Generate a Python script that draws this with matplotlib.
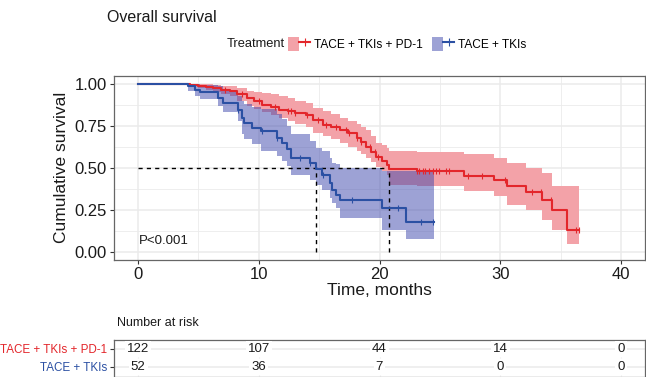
import numpy as np
import matplotlib
matplotlib.use("Agg")
import matplotlib.pyplot as plt
from matplotlib.patches import Patch
from matplotlib.lines import Line2D
from matplotlib.legend_handler import HandlerTuple

plt.rcParams['font.family'] = ['Liberation Sans', 'DejaVu Sans']

# ---------------- data ----------------
groups = ["TACE + TKIs + PD-1", "TACE + TKIs"]

red_t = [0, 4.3, 5.0, 5.6, 6.2, 6.9, 7.6, 8.2, 9.0, 9.6, 10.3, 11.0, 11.7, 12.4, 13.0,
         13.9, 14.5, 15.3, 16.0, 16.7, 17.4, 18.1, 18.5, 18.9, 19.3, 19.7, 20.2, 20.6,
         20.8, 23.1, 27.0, 29.5, 30.6, 32.1, 33.5, 34.3, 35.5]
red_s = [1.0, 0.994, 0.988, 0.982, 0.976, 0.967, 0.957, 0.94, 0.917, 0.90, 0.877, 0.862,
         0.847, 0.836, 0.828, 0.816, 0.786, 0.756, 0.742, 0.727, 0.705, 0.679, 0.655,
         0.626, 0.596, 0.566, 0.54, 0.519, 0.495, 0.479, 0.453, 0.425, 0.394, 0.354,
         0.31, 0.25, 0.127]
red_lo = [1.0, 0.985, 0.975, 0.962, 0.95, 0.94, 0.93, 0.90, 0.87, 0.85, 0.83, 0.815,
          0.80, 0.78, 0.76, 0.746, 0.709, 0.69, 0.67, 0.65, 0.625, 0.60, 0.58, 0.56,
          0.535, 0.507, 0.48, 0.46, 0.40, 0.39, 0.36, 0.33, 0.28, 0.25, 0.19, 0.13, 0.043]
red_hi = [1.0, 1.0, 1.0, 0.998, 0.995, 0.99, 0.985, 0.975, 0.96, 0.953, 0.946, 0.938,
          0.93, 0.915, 0.90, 0.886, 0.857, 0.84, 0.82, 0.80, 0.78, 0.76, 0.745, 0.727,
          0.69, 0.65, 0.635, 0.62, 0.60, 0.595, 0.58, 0.56, 0.53, 0.50, 0.47, 0.39, 0.39]
red_end = 36.5
red_cens = [7.2, 8.6, 10.0, 11.3, 12.4, 12.7, 13.0, 14.0, 14.9, 15.6, 16.4, 17.2, 17.5,
            18.1, 18.5, 19.2, 19.6, 19.9, 23.1, 23.3, 23.6, 23.8, 24.1, 24.4, 24.7, 24.9,
            25.5, 25.8, 27.3, 28.5, 30.4, 32.6, 33.4, 34.2, 36.3, 36.5]

blue_t = [0, 4.15, 4.7, 5.1, 6.6, 7.0, 8.25, 8.6, 8.8, 9.4, 10.2, 11.5, 11.9, 12.3, 12.7,
          14.2, 14.7, 15.2, 15.9, 16.1, 16.4, 16.7, 20.2, 22.2]
blue_s = [1.0, 0.986, 0.966, 0.952, 0.917, 0.887, 0.847, 0.798, 0.768, 0.738, 0.72, 0.68,
          0.65, 0.61, 0.56, 0.53, 0.49, 0.46, 0.41, 0.37, 0.34, 0.31, 0.263, 0.174]
blue_lo = [1.0, 0.96, 0.93, 0.91, 0.87, 0.83, 0.78, 0.70, 0.67, 0.64, 0.60, 0.57, 0.54,
           0.51, 0.46, 0.43, 0.40, 0.37, 0.32, 0.29, 0.26, 0.20, 0.13, 0.073]
blue_hi = [1.0, 1.0, 1.0, 0.995, 0.985, 0.96, 0.93, 0.90, 0.88, 0.86, 0.85, 0.82, 0.79,
           0.75, 0.70, 0.66, 0.62, 0.60, 0.56, 0.53, 0.52, 0.50, 0.48, 0.48]
blue_end = 24.5
blue_cens = [8.3, 10.3, 11.5, 13.4, 14.2, 15.3, 17.7, 21.5, 23.4, 24.4]

medians = [20.8, 14.7]

risk_times = [0, 10, 20, 30, 40]
risk_red = [122, 107, 44, 14, 0]
risk_blue = [52, 36, 7, 0, 0]

xticks = [0, 10, 20, 30, 40]
yticks = [0.0, 0.25, 0.5, 0.75, 1.0]
ytick_labels = ["0.00", "0.25", "0.50", "0.75", "1.00"]

# ---------------- style ----------------
RED_LINE = "#E3262B"
RED_FILL = "#F3A2A8"
BLUE_LINE = "#2B50A3"
BLUE_FILL = "#3D47AD"
GRID = "#EBEBEB"
BORDER = "#666666"

W, H = 646, 377
fig = plt.figure(figsize=(W / 100, H / 100), dpi=100)

def fx(px):
    return px / W

def fy(py):
    return 1 - py / H

ax = fig.add_axes([fx(114), fy(260), fx(645) - fx(114), fy(75.6) - fy(260)])
ax.set_xlim(-2, 42)
ax.set_ylim(-0.05, 1.05)
ax.set_xticks(xticks)
ax.set_yticks(yticks)
ax.set_yticklabels(ytick_labels)
ax.set_xticks([5, 15, 25, 35], minor=True)
ax.set_yticks([0.125, 0.375, 0.625, 0.875], minor=True)
ax.grid(which="major", color=GRID, lw=1.1, zorder=0)
ax.grid(which="minor", color=GRID, lw=0.6, zorder=0)
ax.set_axisbelow(True)
for s in ax.spines.values():
    s.set_color(BORDER)
    s.set_linewidth(0.9)
ax.tick_params(which="major", length=3, width=0.8, color="#333333", labelsize=12,
               labelcolor="#1a1a1a", pad=2)
ax.tick_params(which="minor", length=0)

def draw_group(t, s, lo, hi, end, cens, lcol, fcol, falpha):
    t_ext = np.append(np.asarray(t, float), end)
    s_ext = np.append(np.asarray(s, float), s[-1])
    lo_ext = np.append(np.asarray(lo, float), lo[-1])
    hi_ext = np.append(np.asarray(hi, float), hi[-1])
    ax.fill_between(t_ext, lo_ext, hi_ext, step="post", color=fcol, alpha=falpha,
                    lw=0, zorder=2)
    ax.step(t_ext, s_ext, where="post", color=lcol, lw=1.5, zorder=4)
    c = np.asarray(cens, float)
    idx = np.searchsorted(t_ext[:-1], c, side="right") - 1
    ax.plot(c, s_ext[idx], ls="none", marker="|", ms=5, mew=0.8, color=lcol, zorder=5)

draw_group(red_t, red_s, red_lo, red_hi, red_end, red_cens, RED_LINE, RED_FILL, 1.0)
draw_group(blue_t, blue_s, blue_lo, blue_hi, blue_end, blue_cens, BLUE_LINE, BLUE_FILL, 0.5)

# median lines
ax.plot([0, max(medians)], [0.5, 0.5], color="black", ls=(0, (3, 3)), lw=1.0, zorder=3)
for m in medians:
    ax.plot([m, m], [0, 0.5], color="black", ls=(0, (3, 3)), lw=1.0, zorder=3)

ax.text(0.1, 0.065, "P<0.001", fontsize=9.5, color="#1a1a1a", ha="left", va="center")
ax.set_xlabel("Time, months", fontsize=12.5, color="#1a1a1a", labelpad=1)
ax.set_ylabel("Cumulative survival", fontsize=12.5, color="#1a1a1a", labelpad=4)

# title & legend
fig.text(fx(107), fy(18), "Overall survival", fontsize=11.5, color="#1a1a1a",
         ha="left", va="center")
fig.text(fx(285), fy(44), "Treatment", fontsize=9.3, color="#1a1a1a", ha="right",
         va="center")
h_red = (Patch(facecolor=RED_FILL, edgecolor="none"),
         Line2D([], [], color=RED_LINE, lw=1.5, marker="|", ms=6, mew=0.8))
h_blue = (Patch(facecolor=BLUE_FILL, alpha=0.5, edgecolor="none"),
          Line2D([], [], color=BLUE_LINE, lw=1.5, marker="|", ms=6, mew=0.8))
fig.legend([h_red, h_blue], groups, handler_map={tuple: HandlerTuple(ndivide=None)},
           loc="center left", bbox_to_anchor=(fx(288), fy(44)), ncol=2, frameon=False,
           fontsize=8.6, handlelength=1.85, handleheight=1.5,
           handletextpad=0.3, columnspacing=0.8, borderpad=0, borderaxespad=0)

# risk table
fig.text(fx(117), fy(323), "Number at risk", fontsize=9, color="#1a1a1a",
         ha="left", va="center")
rax = fig.add_axes([fx(114), 0, fx(645) - fx(114), fy(340)])
rax.set_xlim(-2, 42)
rax.set_ylim(-0.556, 1.5)
rax.set_xticks(xticks)
rax.set_xticklabels([])
rax.tick_params(axis="x", length=0)
rax.set_yticks([1, 0])
rax.set_yticklabels(groups)
for lbl, col in zip(rax.get_yticklabels(), [RED_LINE, BLUE_LINE]):
    lbl.set_color(col)
rax.tick_params(axis="y", length=3, width=0.8, color="#333333", labelsize=8.4, pad=2)
rax.grid(axis="y", color=GRID, lw=1.1)
rax.grid(axis="x", color="#F4F4F4", lw=0.8)
rax.set_axisbelow(True)
for s in rax.spines.values():
    s.set_color(BORDER)
    s.set_linewidth(0.9)
for x, nr, nb in zip(risk_times, risk_red, risk_blue):
    for yy, n in ((1, nr), (0, nb)):
        rax.text(x, yy, str(n), fontsize=9.5, color="#1a1a1a", ha="center", va="center",
                 bbox=dict(facecolor="white", edgecolor="none", pad=1.5))

fig.savefig("out.png", dpi=100)
